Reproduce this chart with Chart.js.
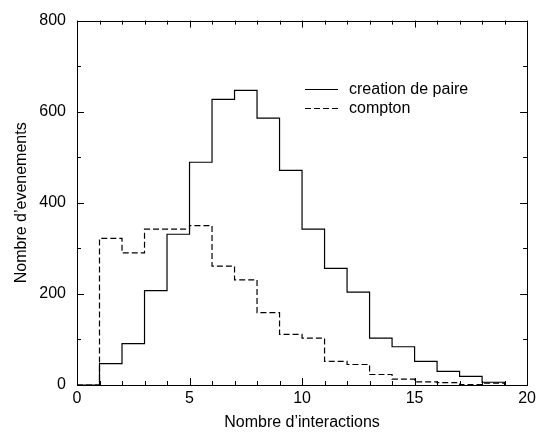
<!DOCTYPE html>
<html>
<head>
<meta charset="utf-8">
<script src="https://cdn.jsdelivr.net/npm/chart.js@4"></script>
<style>
  html, body { margin: 0; padding: 0; background: #fff; }
  #wrap { width: 540px; height: 433px; position: relative; }
</style>
</head>
<body>
<div id="wrap"><canvas id="c" width="540" height="433"></canvas></div>
<script>
// Bin left edges (Nombre d'interactions)
const binEdges = [0, 1, 2, 3, 4, 5, 6, 7, 8, 9, 10, 11, 12, 13, 14, 15, 16, 17, 18, 19];
// Counts per bin (value holds from edge to next edge)
const creationDePaire = [0, 47, 91, 207, 331, 489, 627, 647, 586, 471, 342, 256, 204, 103, 84, 52, 30, 19, 6, 0];
const compton = [0, 322, 290, 342, 342, 350, 261, 231, 159, 111, 103, 52, 45, 23, 13, 7, 5, 1, 4, 0];
const seriesLabels = ['creation de paire', 'compton'];
const xTicks = [0, 5, 10, 15, 20];
const yTicks = [0, 200, 400, 600, 800];

const FONT = 'Liberation Sans, Arial, Helvetica, sans-serif';

function toPoints(vals) { return binEdges.map((x, i) => ({ x: x, y: vals[i] })); }

const framePlugin = {
  id: 'frame',
  afterDraw(chart) {
    const ctx = chart.ctx, a = chart.chartArea;
    const xs = chart.scales.x, ys = chart.scales.y;
    ctx.save();
    ctx.strokeStyle = '#000';
    ctx.lineWidth = 1;
    ctx.strokeRect(Math.round(a.left) + 0.5, Math.round(a.top) + 0.5, Math.round(a.right - a.left), Math.round(a.bottom - a.top));
    ctx.beginPath();
    for (let v = xs.min; v <= xs.max; v += 1) {
      const px = Math.round(xs.getPixelForValue(v)) + 0.5;
      const len = xTicks.includes(v) ? 7 : 4;
      ctx.moveTo(px, a.bottom); ctx.lineTo(px, a.bottom - len);
      ctx.moveTo(px, a.top); ctx.lineTo(px, a.top + len);
    }
    for (let v = ys.min; v <= ys.max; v += 100) {
      const py = Math.round(ys.getPixelForValue(v)) + 0.5;
      const len = yTicks.includes(v) ? 7 : 4;
      ctx.moveTo(a.left, py); ctx.lineTo(a.left + len, py);
      ctx.moveTo(a.right, py); ctx.lineTo(a.right - len, py);
    }
    ctx.stroke();

    // legend
    const items = chart.data.datasets;
    const lx0 = 305, lx1 = 338, tx = 349, y0 = 89, dy = 19;
    ctx.font = '16px ' + FONT;
    ctx.fillStyle = '#000';
    ctx.textBaseline = 'middle';
    items.forEach((ds, i) => {
      const y = y0 + i * dy + 0.5;
      ctx.setLineDash(ds.borderDash || []);
      ctx.lineWidth = ds.borderWidth;
      ctx.beginPath(); ctx.moveTo(lx0, y); ctx.lineTo(lx1, y); ctx.stroke();
      ctx.setLineDash([]);
      ctx.fillText(ds.label, tx, y0 + i * dy + 1);
    });
    ctx.restore();
  }
};

new Chart(document.getElementById('c'), {
  type: 'line',
  data: {
    datasets: [
      { label: seriesLabels[0], data: toPoints(creationDePaire), stepped: 'before', borderColor: '#000', borderWidth: 1.2, pointRadius: 0, fill: false },
      { label: seriesLabels[1], data: toPoints(compton), stepped: 'before', borderColor: '#000', borderWidth: 1.2, borderDash: [6, 3], pointRadius: 0, fill: false }
    ]
  },
  plugins: [framePlugin],
  options: {
    responsive: false,
    animation: false,
    layout: { padding: { top: 9, right: 11, left: 0, bottom: 0 } },
    plugins: { legend: { display: false }, tooltip: { enabled: false } },
    scales: {
      x: {
        type: 'linear', min: 0, max: 20,
        afterBuildTicks(s) { s.ticks = xTicks.map(v => ({ value: v })); },
        afterFit(s) { s.height = 48; },
        grid: { display: false, drawTicks: false },
        border: { display: false },
        ticks: { color: '#000', font: { family: FONT, size: 16 }, padding: 4, maxRotation: 0 },
        title: { display: true, text: 'Nombre d\u2019interactions', color: '#000', font: { family: FONT, size: 16 }, padding: { top: 0, bottom: 1 } }
      },
      y: {
        type: 'linear', min: 0, max: 800,
        afterBuildTicks(s) { s.ticks = yTicks.map(v => ({ value: v })); },
        afterFit(s) { s.width = 77; },
        grid: { display: false, drawTicks: false },
        border: { display: false },
        ticks: { color: '#000', font: { family: FONT, size: 16 }, padding: 11 },
        title: { display: true, text: 'Nombre d\u2019evenements', color: '#000', font: { family: FONT, size: 16 }, padding: { top: 12, bottom: 0 } }
      }
    }
  }
});
</script>
</body>
</html>
